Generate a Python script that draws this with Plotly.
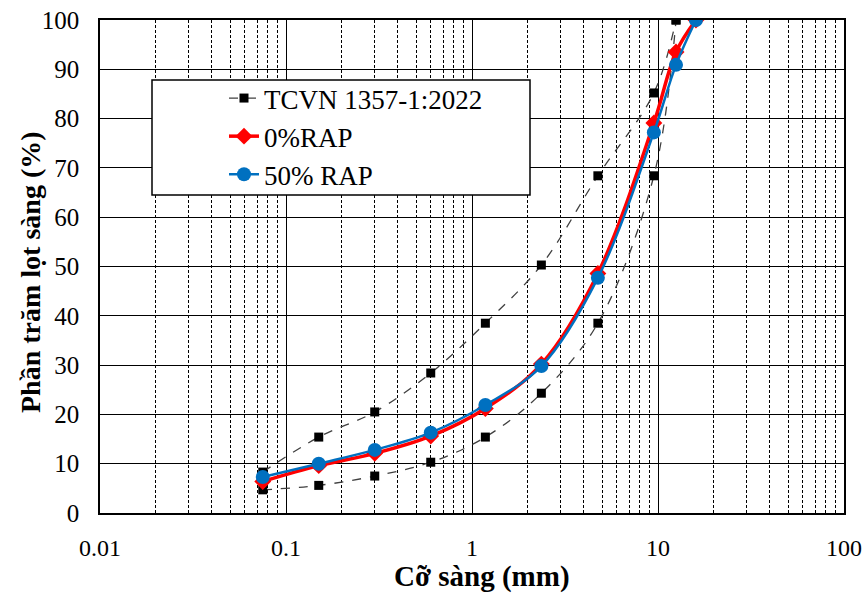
import plotly.graph_objects as go

sieve = [0.075, 0.15, 0.3, 0.6, 1.18, 2.36, 4.75, 9.5, 12.5, 16]
tcvn_sieve = [0.075, 0.15, 0.3, 0.6, 1.18, 2.36, 4.75, 9.5, 12.5]
tcvn_upper = [8.3, 15.4, 20.5, 28.4, 38.5, 50.3, 68.4, 85.2, 100]
tcvn_lower = [4.7, 5.6, 7.5, 10.3, 15.4, 24.3, 38.5, 68.4, 100]
rap0 = [6.4, 9.6, 12.1, 15.6, 21.2, 30.2, 48.6, 79.1, 93.5, 100]
rap50 = [7.3, 10.0, 12.8, 16.3, 21.9, 29.8, 47.7, 77.2, 90.9, 100]

FONT = "Liberation Serif"

fig = go.Figure()
fig.add_trace(go.Scatter(
    x=tcvn_sieve, y=tcvn_upper, mode="lines+markers", name="TCVN 1357-1:2022",
    line=dict(color="#404040", width=1.3, dash="dash", shape="spline"),
    marker=dict(symbol="square", size=9, color="black"),
    legendgroup="g1", showlegend=True))
fig.add_trace(go.Scatter(
    x=tcvn_sieve, y=tcvn_lower, mode="lines+markers", name="TCVN 1357-1:2022",
    line=dict(color="#404040", width=1.3, dash="dash", shape="spline"),
    marker=dict(symbol="square", size=9, color="black"),
    legendgroup="g1", showlegend=False))
fig.add_trace(go.Scatter(
    x=sieve, y=rap0, mode="lines+markers", name="0%RAP",
    line=dict(color="#FF0000", width=3.5, shape="spline"),
    marker=dict(symbol="diamond", size=13, color="#FF0000"),
    legendgroup="g2"))
fig.add_trace(go.Scatter(
    x=sieve, y=rap50, mode="lines+markers", name="50% RAP",
    line=dict(color="#0070C0", width=2.5, shape="spline"),
    marker=dict(symbol="circle", size=14, color="#0070C0"),
    legendgroup="g3"))

W, H = 866, 594
ml, mr, mt, mb = 100, 22, 20, 81

lx0, lx1, ly0, ly1 = 152, 530, 80, 195
pw, ph = W - ml - mr, H - mt - mb
fig.add_shape(type="rect", xref="paper", yref="paper",
              x0=(lx0 - ml) / pw, x1=(lx1 - ml) / pw,
              y0=1 - (ly1 - mt) / ph, y1=1 - (ly0 - mt) / ph,
              line=dict(color="black", width=1.5), fillcolor="white", layer="above")

fig.add_annotation(
    text="<b>Phần trăm lọt sàng (%)</b>", textangle=-90,
    xref="paper", yref="paper", x=(30 - ml) / pw, y=1 - (272 - mt) / ph,
    xanchor="center", yanchor="middle", showarrow=False,
    font=dict(family=FONT, size=28, color="black"))
fig.add_annotation(
    text="<b>Cỡ sàng (mm)</b>",
    xref="paper", yref="paper", x=(482 - ml) / pw, y=1 - (576 - mt) / ph,
    xanchor="center", yanchor="middle", showarrow=False,
    font=dict(family=FONT, size=29, color="black"))

fig.update_layout(
    width=W, height=H,
    margin=dict(l=ml, r=mr, t=mt, b=mb, autoexpand=False),
    paper_bgcolor="white", plot_bgcolor="white",
    font=dict(family=FONT, color="black", size=24),
    legend=dict(
        x=(224 - ml) / pw, y=1 - (74 - mt) / ph, xanchor="left", yanchor="top",
        bgcolor="rgba(0,0,0,0)", borderwidth=0,
        font=dict(family=FONT, size=27, color="black"),
        traceorder="grouped", tracegroupgap=0,
    ),
    xaxis=dict(
        type="log", range=[-2, 2], tickvals=[0.01, 0.1, 1, 10, 100],
        ticktext=["0.01", "0.1", "1", "10", "100"],
        showgrid=True, gridcolor="black", gridwidth=1.3,
        minor=dict(dtick="D1", showgrid=True, gridcolor="black", gridwidth=1, griddash="3px,2px", ticks=""),
        showline=True, linecolor="black", linewidth=1.5, mirror=True,
        ticks="", ticklabelstandoff=12,
        tickfont=dict(family=FONT, size=24),
        zeroline=False,
    ),
    yaxis=dict(
        range=[0, 100], dtick=10,
        showgrid=True, gridcolor="black", gridwidth=1.3,
        showline=True, linecolor="black", linewidth=1.5, mirror=True,
        ticks="outside", ticklen=14, tickcolor="rgba(0,0,0,0)",
        tickfont=dict(family=FONT, size=25),
        zeroline=False,
    ),
)

fig.write_html("out.html")
